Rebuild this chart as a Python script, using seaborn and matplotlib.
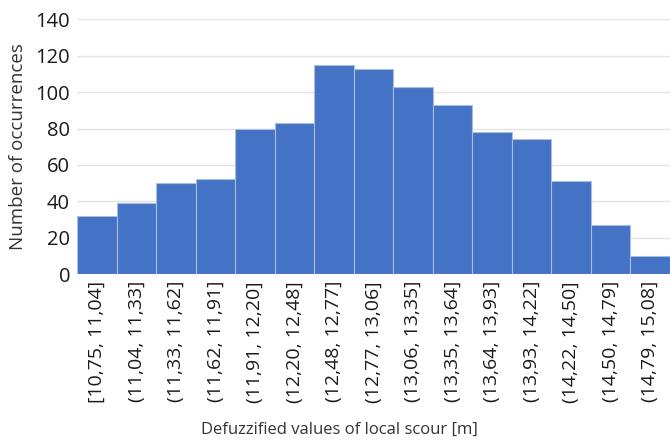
import pandas as pd
import matplotlib.pyplot as plt
import seaborn as sns

# Interval labels and counts
bins = ['[10,75, 11,04]', '(11,04, 11,33]', '(11,33, 11,62]', '(11,62, 11,91]',
        '(11,91, 12,20]', '(12,20, 12,48]', '(12,48, 12,77]', '(12,77, 13,06]',
        '(13,06, 13,35]', '(13,35, 13,64]', '(13,64, 13,93]', '(13,93, 14,22]',
        '(14,22, 14,50]', '(14,50, 14,79]', '(14,79, 15,08]']
counts = [32, 39, 50, 52, 80, 83, 115, 113, 103, 93, 78, 74, 51, 27, 10]

df = pd.DataFrame({'Interval': bins, 'Count': counts})

sns.set_style('white')
plt.rcParams['font.family'] = ['Open Sans', 'DejaVu Sans']

fig = plt.figure(figsize=(6.7, 4.42), dpi=100)
ax = fig.add_axes([0.115, 0.38, 0.885, 0.576])

sns.barplot(data=df, x='Interval', y='Count', color='#4472C4', saturation=1,
            width=1.0, edgecolor='#A9BDE3', linewidth=0.8, ax=ax, zorder=2)

ax.set_ylim(0, 140)
ax.set_yticks(range(0, 141, 20))
ax.set_xlim(-0.5, len(bins) - 0.5)
ax.yaxis.grid(True, color='#E3E3E3', linewidth=1, zorder=0)
ax.set_axisbelow(True)
for s in ax.spines.values():
    s.set_visible(False)

ax.tick_params(axis='y', labelsize=14.5, length=0, pad=5, colors='#1a1a1a')
ax.tick_params(axis='x', labelsize=14, length=0, pad=5, rotation=90, colors='#1a1a1a')
ax.set_xlabel('Defuzzified values of local scour [m]', fontsize=12, color='#333333')
ax.xaxis.set_label_coords(0.442, -0.58)
ax.set_ylabel('Number of occurrences', fontsize=13.5, color='#333333', labelpad=6)

fig.savefig('out.png', dpi=100)
